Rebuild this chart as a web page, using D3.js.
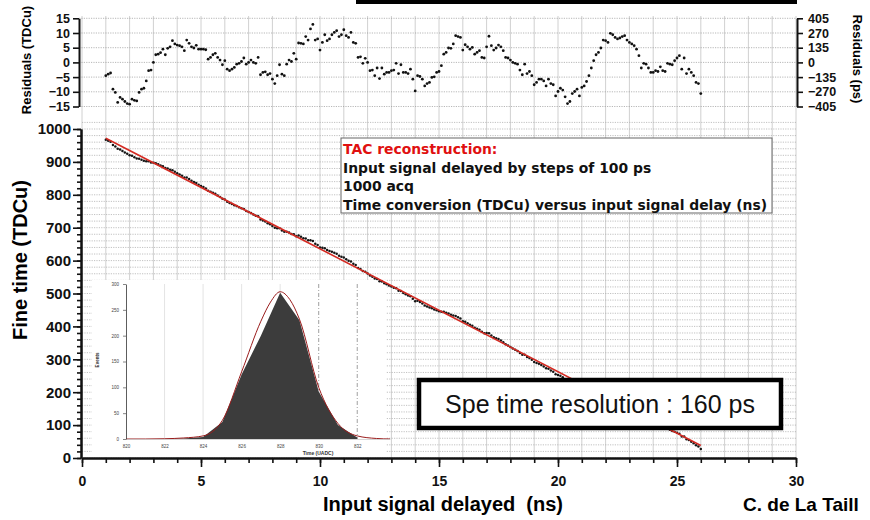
<!DOCTYPE html>
<html>
<head>
<meta charset="utf-8">
<script src="https://cdn.jsdelivr.net/npm/d3@7"></script>
<style>
  body { margin: 0; background: #fff; }
</style>
</head>
<body>
<svg id="chart" width="870" height="520" font-family='"Liberation Sans", Arial, sans-serif'></svg>
<script>
const svg = d3.select('#chart');

// ---- data ----
// delays go 1.0 .. 26.0 ns by steps of 100 ps
const DELAY_START = 1.0;
const DELAY_STEP = 0.1;

// residuals (TDCu), one per delay step
const residuals = [
  -4.5, -4.0, -3.6, -9.1, -10.2, -13.6, -11.9, -12.5, -13.3, -14.0,   // 1.0
  -14.2, -12.5, -12.9, -13.1, -10.2, -9.1, -8.8, -6.3, -2.8, -2.6,    // 2.0
  0, 2.6, 2.8, 3.3, 4.5, 2.6, 4.8, 5.3, 7.4, 6.3,                     // 3.0
  5.9, 5.7, 5.3, 4.0, 7.6, 6.5, 5.3, 4.9, 5.8, 4.5,                   // 4.0
  4.5, 4.5, 4.3, 1.1, 1.7, 2.6, 3.1, 1.7, 0.8, -0.8,                  // 5.0
  0.6, -2.3, -2.8, -2.3, -1.7, -0.6, -0.3, 0.3, 1.5, -0.6,            // 6.0
  0, 0.8, 0, -0.3, 1.7, -4.2, -3.4, -3.2, -4.2, -3.8,                 // 7.0
  -5.7, -7.2, -4.5, -0.8, -4.0, -4.5, -0.6, 0.8, 0.3, 3.1,            // 8.0
  1.1, 6.6, 6.5, 6.3, 8.8, 7.6, 11.4, 12.9, 7.6, 8.0,                 // 9.0
  4.2, 6.8, 9.4, 7.4, 8.0, 9.4, 10.2, 10.8, 8.8, 9.4,                 // 10.0
  11.1, 9.1, 8.5, 10.2, 6.8, 6.5, 1.7, 1.9, -0.3, 1.4,                // 11.0
  0, -2.8, -2.6, -4.5, -1.9, -5.5, -1.9, -4.0, -3.4, -3.4,            // 12.0
  -2.8, -2.6, -0.3, -3.8, -0.8, -3.4, -3.4, -3.8, -2.3, -5.7,         // 13.0
  -9.7, -4.5, -4.8, -5.7, -8.0, -7.2, -6.8, -5.1, -4.9, -3.4,         // 14.0
  -3.1, -1.1, 2.8, 3.4, 4.9, 4.8, 6.3, 9.1, 8.8, 8.5,                 // 15.0
  4.2, 6.0, 5.3, 4.5, 5.1, 2.8, 3.4, 4.0, 1.7, 1.5,                   // 16.0
  5.3, 8.9, 5.7, 4.2, 4.9, 5.9, 5.3, 4.0, 1.7, 1.5,                   // 17.0
  0.8, 0, -0.3, -0.6, -2.6, -4.2, -0.6, -3.8, -3.1, -4.5,             // 18.0
  -7.6, -6.8, -5.7, -5.7, -6.3, -8.0, -5.7, -7.2, -7.6, -11.4,        // 19.0
  -9.9, -8.8, -9.4, -11.7, -14.0, -13.3, -10.6, -9.9, -9.1, -11.4,    // 20.0
  -8.5, -8.0, -6.5, -4.5, -1.9, 0.6, 2.6, 3.4, 4.9, 7.6,              // 21.0
  7.4, 6.8, 9.9, 9.4, 8.5, 8.0, 8.3, 8.8, 9.1, 7.6,                   // 22.0
  6.8, 6.3, 5.7, 4.5, 2.3, -1.9, -0.3, -0.6, -1.9, -3.4,              // 23.0
  -3.4, -2.8, -3.1, -1.5, -2.8, -3.1, -0.3, -0.6, -0.8, 0.6,          // 24.0
  1.5, 2.3, -2.3, 1.5, -3.8, -2.3, -3.4, -4.5, -6.8, -7.2,            // 25.0
  -10.6                                                               // 26.0
];

// linear fit of fine time vs delay (TDCu = a + b * ns)
const FIT_A = 1009.4;
const FIT_B = -37.36;
const fitRange = [1, 26];

const resTicks = [-15, -10, -5, 0, 5, 10, 15];
const psTicks = [-405, -270, -135, 0, 135, 270, 405];
const xTicks = [0, 5, 10, 15, 20, 25, 30];
const yTicks = [0, 100, 200, 300, 400, 500, 600, 700, 800, 900, 1000];

const legendLines = [
  'TAC reconstruction:',
  'Input signal delayed by steps of 100 ps',
  '1000 acq',
  'Time conversion (TDCu) versus input signal delay (ns)'
];

// inset histogram (Time in UADC, events)
const histTime = [822, 823, 824, 825, 826, 827, 828, 829, 830, 831, 832];
const histEvents = [0, 1, 4, 33, 125, 200, 283, 230, 92, 27, 3];
const gaussTime = [820, 821, 822, 823, 824, 825, 826, 827, 827.5, 828, 828.5, 829, 830, 831, 832, 833, 833.7];
const gaussEvents = [0, 0, 0.5, 2, 6, 36, 130, 228, 265, 285, 270, 232, 100, 30, 6, 1, 0];
const insetXTicks = [820, 822, 824, 826, 828, 830, 832];
const insetYTicks = [0, 50, 100, 150, 200, 250, 300];

// ---- scales ----
const x = d3.scaleLinear().domain([0, 30]).range([82, 796]);
const yRes = d3.scaleLinear().domain([-15, 15]).range([106.5, 18.3]);
const yPs = d3.scaleLinear().domain([-405, 405]).range([106.5, 18.3]);
const y = d3.scaleLinear().domain([0, 1000]).range([458, 129]);

const points = residuals.map((r, i) => {
  const t = DELAY_START + i * DELAY_STEP;
  return { t, r, v: FIT_A + FIT_B * t + r };
});

// ---- grid ----
const grid = svg.append('g');
grid.selectAll('.vg').data(d3.range(0, 31)).join('line')
  .attr('x1', d => x(d)).attr('x2', d => x(d))
  .attr('y1', 16).attr('y2', 458)
  .attr('stroke', '#c4c4c4').attr('stroke-width', 0.8);
grid.selectAll('.rg').data(resTicks).join('line')
  .attr('x1', 79).attr('x2', 796)
  .attr('y1', d => yRes(d)).attr('y2', d => yRes(d))
  .attr('stroke', '#999').attr('stroke-width', 0.7).attr('stroke-dasharray', '1.2,1.2');
grid.selectAll('.mg').data(d3.range(0, 1021, 20)).join('line')
  .attr('x1', 82).attr('x2', 796)
  .attr('y1', d => y(d)).attr('y2', d => y(d))
  .attr('stroke', '#a8a8a8').attr('stroke-width', 0.7).attr('stroke-dasharray', '1.2,1.2');

// ---- residual panel ----
svg.append('g').selectAll('circle').data(points).join('circle')
  .attr('cx', d => x(d.t)).attr('cy', d => yRes(d.r))
  .attr('r', 1.4).attr('fill', '#111');

function styleAxis(g, size) {
  g.select('.domain').attr('stroke', '#111').attr('stroke-width', 2);
  g.selectAll('.tick line').attr('stroke', '#111').attr('stroke-width', 1.6);
  g.selectAll('text').attr('font-family', '"Liberation Sans", Arial, sans-serif')
    .attr('font-weight', 'bold').attr('font-size', size).attr('fill', '#111');
}

svg.append('g').attr('transform', 'translate(79,0)')
  .call(d3.axisLeft(yRes).tickValues(resTicks).tickSize(6).tickSizeOuter(0).tickPadding(3))
  .call(g => styleAxis(g, '12.5px'));
svg.append('g').attr('transform', 'translate(797,0)')
  .call(d3.axisRight(yPs).tickValues(psTicks).tickSize(6).tickSizeOuter(0).tickPadding(5))
  .call(g => styleAxis(g, '12.5px'));

svg.append('text')
  .attr('transform', 'translate(31,60) rotate(-90)')
  .attr('text-anchor', 'middle').attr('font-weight', 'bold').attr('font-size', 13)
  .text('Residuals (TDCu)');
svg.append('text')
  .attr('transform', 'translate(853,59) rotate(90)')
  .attr('text-anchor', 'middle').attr('font-weight', 'bold').attr('font-size', 13)
  .text('Residuals (ps)');

// bottom edge of the title box cut at the top of the picture
svg.append('rect').attr('x', 356).attr('y', -6).attr('width', 441).attr('height', 10)
  .attr('fill', '#000');

// ---- main axes ----
svg.append('g').attr('transform', 'translate(81,0)')
  .call(d3.axisLeft(y).tickValues(d3.range(0, 1001, 20)).tickSize(4).tickSizeOuter(0).tickFormat(''))
  .call(g => styleAxis(g, '15px'));
svg.append('g').attr('transform', 'translate(81,0)')
  .call(d3.axisLeft(y).tickValues(yTicks).tickSize(8).tickSizeOuter(0).tickPadding(2).tickFormat(d3.format('d')))
  .call(g => styleAxis(g, '15px'));

svg.append('g').attr('transform', 'translate(0,458)')
  .call(d3.axisBottom(x).tickValues(d3.range(0, 31)).tickSize(5).tickSizeOuter(0).tickFormat(''))
  .call(g => styleAxis(g, '14px'));
svg.append('g').attr('transform', 'translate(0,458)')
  .call(d3.axisBottom(x).tickValues(xTicks).tickSize(9).tickSizeOuter(0).tickPadding(9))
  .call(g => styleAxis(g, '14px'));

svg.append('text')
  .attr('transform', 'translate(27,260) rotate(-90)')
  .attr('text-anchor', 'middle').attr('font-weight', 'bold').attr('font-size', 20)
  .text('Fine time (TDCu)');
svg.append('text')
  .attr('x', 443).attr('y', 511)
  .attr('text-anchor', 'middle').attr('font-weight', 'bold').attr('font-size', 20)
  .style('white-space', 'pre')
  .text('Input signal delayed  (ns)');
svg.append('text')
  .attr('x', 743).attr('y', 511)
  .attr('font-weight', 'bold').attr('font-size', 19)
  .text('C. de La Taill');

// ---- inset histogram ----
const ix = d3.scaleLinear().domain([820, 833.7]).range([126, 390]);
const iy = d3.scaleLinear().domain([0, 300]).range([439, 284]);
const inset = svg.append('g');
inset.append('rect').attr('x', 92).attr('y', 280).attr('width', 294).attr('height', 177)
  .attr('fill', '#fff');
inset.selectAll('.ig').data(insetXTicks.slice(1)).join('line')
  .attr('x1', d => ix(d)).attr('x2', d => ix(d))
  .attr('y1', 284).attr('y2', 439)
  .attr('stroke', d => d >= 830 ? '#777' : '#d8d8d8')
  .attr('stroke-width', 0.7)
  .attr('stroke-dasharray', d => d >= 830 ? '4,2,1,2' : null);
inset.append('path')
  .datum(histTime.map((t, i) => [t, histEvents[i]]))
  .attr('d', d3.area().x(d => ix(d[0])).y0(iy(0)).y1(d => iy(d[1])))
  .attr('fill', '#3c3c3c');
inset.append('path')
  .datum(gaussTime.map((t, i) => [t, gaussEvents[i]]))
  .attr('d', d3.line().x(d => ix(d[0])).y(d => iy(d[1])).curve(d3.curveMonotoneX))
  .attr('fill', 'none').attr('stroke', '#9a1c1c').attr('stroke-width', 1);

function styleInsetAxis(g) {
  g.select('.domain').attr('stroke', '#333').attr('stroke-width', 0.8);
  g.selectAll('.tick line').attr('stroke', '#333').attr('stroke-width', 0.6);
  g.selectAll('text').attr('font-size', '4.5px').attr('fill', '#444')
    .attr('font-family', '"Liberation Sans", Arial, sans-serif');
}
inset.append('g').attr('transform', `translate(${ix(820)},0)`)
  .call(d3.axisLeft(iy).tickValues(insetYTicks).tickSize(3).tickSizeOuter(0).tickPadding(4))
  .call(styleInsetAxis);
inset.append('g').attr('transform', `translate(0,${iy(0)})`)
  .call(d3.axisBottom(ix).tickValues(insetXTicks).tickSize(0).tickSizeOuter(0).tickPadding(6))
  .call(styleInsetAxis)
  .call(g => g.select('.domain').attr('stroke', '#ccc'));
inset.append('text')
  .attr('transform', 'translate(99,360) rotate(-90)')
  .attr('text-anchor', 'middle').attr('font-size', 4.5).attr('font-weight', 'bold').attr('fill', '#333')
  .text('Events');
inset.append('text')
  .attr('x', 318).attr('y', 455)
  .attr('text-anchor', 'middle').attr('font-size', 5).attr('font-weight', 'bold').attr('fill', '#333')
  .text('Time (UADC)');

// ---- main data: points and fit ----
svg.append('g').selectAll('circle').data(points).join('circle')
  .attr('cx', d => x(d.t)).attr('cy', d => y(d.v))
  .attr('r', 1.25).attr('fill', '#151515');
svg.append('path')
  .datum(fitRange)
  .attr('d', d3.line().x(d => x(d)).y(d => y(FIT_A + FIT_B * d)))
  .attr('fill', 'none').attr('stroke', '#d42a22').attr('stroke-width', 1.6);

// ---- legend box ----
const legend = svg.append('g');
legend.append('rect').attr('x', 341).attr('y', 138).attr('width', 431).attr('height', 75)
  .attr('fill', '#fff').attr('stroke', '#666').attr('stroke-width', 1);
legend.selectAll('text').data(legendLines).join('text')
  .attr('x', 343).attr('y', (d, i) => 154 + i * 18.5)
  .attr('font-family', '"DejaVu Sans", Verdana, sans-serif')
  .attr('font-weight', 'bold').attr('font-size', 13.9)
  .attr('fill', (d, i) => i === 0 ? '#e01010' : '#111')
  .text(d => d);

// ---- resolution box ----
svg.append('rect').attr('x', 419).attr('y', 380).attr('width', 362).attr('height', 48)
  .attr('fill', '#fff').attr('stroke', '#000').attr('stroke-width', 4.5);
svg.append('text')
  .attr('x', 600).attr('y', 413).attr('text-anchor', 'middle')
  .attr('font-size', 25).attr('fill', '#111')
  .text('Spe time resolution : 160 ps');
</script>
</body>
</html>
